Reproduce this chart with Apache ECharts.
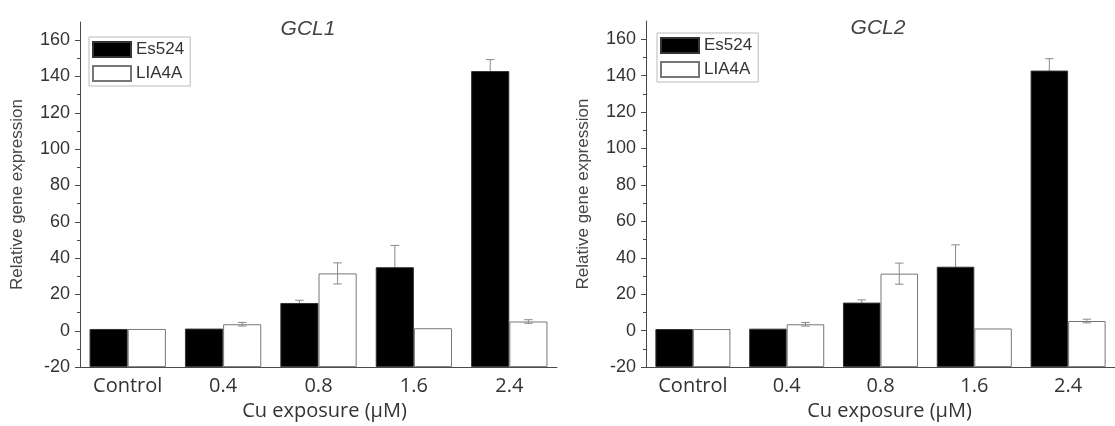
<!DOCTYPE html>
<html>
<head>
<meta charset="utf-8">
<script src="https://cdn.jsdelivr.net/npm/echarts@6/dist/echarts.min.js"></script>
<style>
  html, body { margin: 0; padding: 0; background: #fff; }
  #chart { width: 1115px; height: 426px; }
</style>
</head>
<body>
<div id="chart"></div>
<script>
// Copper exposure levels (categories)
const categories = ['Control', '0.4', '0.8', '1.6', '2.4'];
const seriesNames = ['Es524', 'LIA4A'];
const titles = ['GCL1', 'GCL2'];
const yTickValues = [-20, 0, 20, 40, 60, 80, 100, 120, 140, 160];

// GCL1 relative expression (mean and error)
const gcl1Es524 = [1, 1.2, 15.3, 35, 143];
const gcl1Es524Err = [0, 0, 1.5, 12, 6.3];
const gcl1Lia4a = [1, 3.6, 31.6, 1.4, 5.1];
const gcl1Lia4aErr = [0, 1, 5.8, 0, 1];

// GCL2 relative expression (mean and error)
const gcl2Es524 = [0.9, 1.1, 15.4, 35.1, 142.8];
const gcl2Es524Err = [0, 0, 1.5, 12, 6.5];
const gcl2Lia4a = [0.9, 3.5, 31.3, 1.2, 5.3];
const gcl2Lia4aErr = [0, 1, 5.8, 0, 1];

const panels = [
  { es: gcl1Es524, esErr: gcl1Es524Err, lia: gcl1Lia4a, liaErr: gcl1Lia4aErr,
    grid: { left: 80, top: 22, width: 477, height: 350 }, titleX: 303, titleY: 14,
    legend: { left: 89, top: 37 }, namePad: 12 },
  { es: gcl2Es524, esErr: gcl2Es524Err, lia: gcl2Lia4a, liaErr: gcl2Lia4aErr,
    grid: { left: 646, top: 21, width: 475, height: 351 }, titleX: 873, titleY: 13,
    legend: { left: 657, top: 33 }, namePad: 18 }
];

const AXIS_COLOR = '#4a4a4a';
const TEXT_COLOR = '#333';
const ERR_COLOR = '#8a8a8a';

// Error bar drawn at one bar of a pair; side = -1 (left bar) or +1 (right bar)
function errorBarRenderer(side) {
  return function (params, api) {
    const i = api.value(0), v = api.value(1), e = api.value(2);
    if (!e) return null;
    const band = api.size([1, 0])[0];
    const x = api.coord([i, v])[0] + side * band * 0.2;
    const yTop = api.coord([i, v + e])[1];
    const yBot = api.coord([i, v - e])[1];
    const cap = band * 0.045;
    const style = { stroke: ERR_COLOR, lineWidth: 1 };
    return {
      type: 'group',
      children: [
        { type: 'line', shape: { x1: x, y1: yTop, x2: x, y2: yBot }, style },
        { type: 'line', shape: { x1: x - cap, y1: yTop, x2: x + cap, y2: yTop }, style },
        { type: 'line', shape: { x1: x - cap, y1: yBot, x2: x + cap, y2: yBot }, style }
      ]
    };
  };
}

const grid = [], xAxis = [], yAxis = [], series = [], title = [], legend = [];

panels.forEach((p, k) => {
  grid.push(p.grid);
  title.push({
    text: titles[k], left: p.titleX, top: p.titleY, textAlign: 'center',
    textStyle: { fontFamily: 'Liberation Sans', fontStyle: 'italic', fontWeight: 'normal', fontSize: 21, color: '#444' }
  });
  legend.push({
    data: seriesNames, orient: 'vertical', left: p.legend.left, top: p.legend.top,
    icon: 'rect', itemWidth: 38, itemHeight: 15, itemGap: 7,
    padding: [4, 6, 4, 3], borderColor: '#bbb', borderWidth: 1,
    selectedMode: false,
    textStyle: { fontFamily: 'Liberation Sans', fontSize: 17, color: TEXT_COLOR }
  });
  // main category axis: ticks under each label
  xAxis.push({
    type: 'category', gridIndex: k, data: categories, position: 'bottom',
    axisLine: { onZero: false, lineStyle: { color: AXIS_COLOR } },
    axisTick: { alignWithLabel: true, length: 5, lineStyle: { color: AXIS_COLOR } },
    axisLabel: { fontFamily: 'Open Sans', fontSize: 20, color: TEXT_COLOR, margin: 9 },
    name: 'Cu exposure (\u03bcM)', nameLocation: 'middle', nameGap: 29,
    nameTextStyle: { fontFamily: 'Open Sans', fontSize: 20, color: TEXT_COLOR, padding: [0, 0, 0, p.namePad] }
  });
  // companion axis: short upward ticks between categories, moved onto the bottom edge
  xAxis.push({
    type: 'category', gridIndex: k, data: categories, position: 'top', offset: -p.grid.height,
    axisLine: { show: false, onZero: false },
    axisTick: { length: 3, lineStyle: { color: AXIS_COLOR } },
    axisLabel: { show: false }
  });
  yAxis.push({
    type: 'value', gridIndex: k, min: -20, max: 170, interval: 20, startValue: -20,
    axisLine: { show: true, onZero: false, lineStyle: { color: AXIS_COLOR } },
    axisTick: { show: true, length: 5, customValues: yTickValues, lineStyle: { color: AXIS_COLOR } },
    minorTick: { show: true, splitNumber: 2, length: 3, lineStyle: { color: AXIS_COLOR } },
    splitLine: { show: false },
    axisLabel: { customValues: yTickValues, fontFamily: 'Liberation Sans', fontSize: 18, color: TEXT_COLOR, margin: 10 },
    name: 'Relative gene expression', nameLocation: 'middle', nameGap: 54,
    nameTextStyle: { fontFamily: 'Liberation Sans', fontSize: 17, color: '#444' }
  });

  const xi = k * 2;
  series.push({
    name: 'Es524', type: 'bar', xAxisIndex: xi, yAxisIndex: k, data: p.es,
    barGap: '0%', barCategoryGap: '20%', z: 2,
    itemStyle: { color: '#000', borderColor: '#333', borderWidth: 1 }
  });
  series.push({
    name: 'LIA4A', type: 'bar', xAxisIndex: xi, yAxisIndex: k, data: p.lia,
    barGap: '0%', barCategoryGap: '20%', z: 2,
    itemStyle: { color: '#fff', borderColor: '#777', borderWidth: 1 }
  });
  series.push({
    type: 'custom', xAxisIndex: xi, yAxisIndex: k, z: 1,
    renderItem: errorBarRenderer(-1),
    data: p.es.map((v, i) => [i, v, p.esErr[i]])
  });
  series.push({
    type: 'custom', xAxisIndex: xi, yAxisIndex: k, z: 3,
    renderItem: errorBarRenderer(1),
    data: p.lia.map((v, i) => [i, v, p.liaErr[i]])
  });
});

const chart = echarts.init(document.getElementById('chart'), null, { renderer: 'canvas' });
chart.setOption({
  animation: false,
  backgroundColor: '#fff',
  title, legend, grid, xAxis, yAxis, series
});
</script>
</body>
</html>
